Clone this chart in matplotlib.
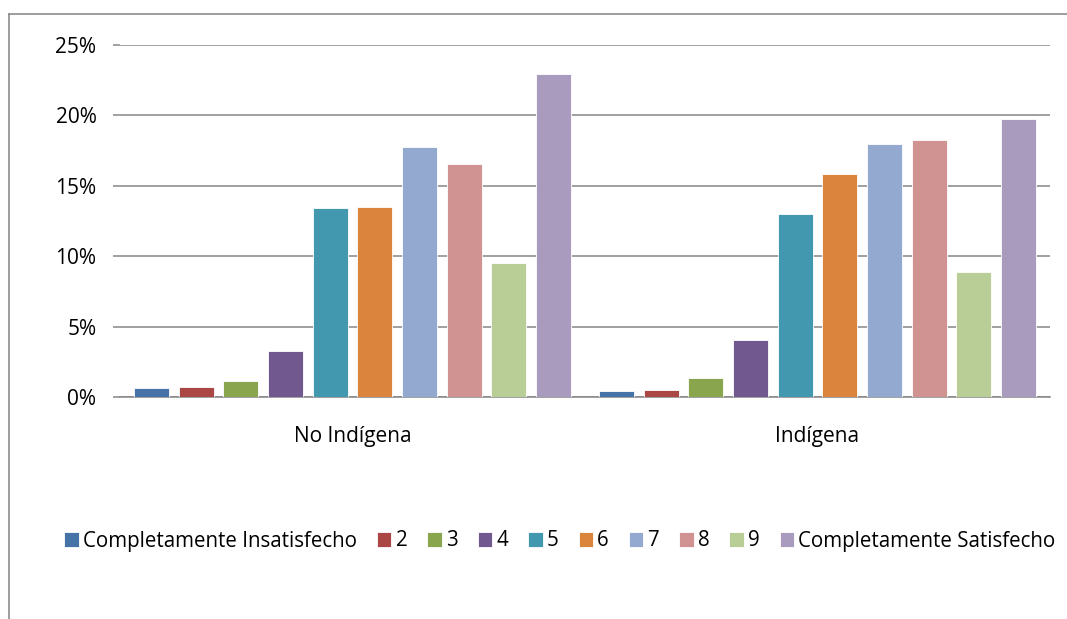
import numpy as np
import matplotlib
matplotlib.use('Agg')
import matplotlib.pyplot as plt
from matplotlib.lines import Line2D
from matplotlib.ticker import FuncFormatter

plt.rcParams['font.family'] = ['Open Sans', 'DejaVu Sans']

groups = ['No Indígena', 'Indígena']
series = ['Completamente Insatisfecho', '2', '3', '4', '5', '6', '7', '8', '9',
          'Completamente Satisfecho']
# percent values per series: [No Indigena, Indigena]
values = [
    [0.64, 0.40],
    [0.69, 0.47],
    [1.16, 1.33],
    [3.30, 4.05],
    [13.43, 13.00],
    [13.48, 15.83],
    [17.79, 17.94],
    [16.58, 18.27],
    [9.55, 8.86],
    [22.96, 19.71],
]
colors = ['#4572A7', '#AA4643', '#89A54E', '#71588F', '#4198AF',
          '#DB843D', '#93A9CF', '#D19392', '#B9CD96', '#A99BBD']
yticks = [0, 5, 10, 15, 20, 25]

W, H = 1067, 619
fig = plt.figure(figsize=(W / 100, H / 100), dpi=100)
ax = fig.add_axes([120 / W, 1 - 397 / H, 930 / W, 352 / H])

x = np.arange(len(groups))
pitch = 0.0961
width = 0.0753
n = len(series)
for i in range(n):
    off = (i - (n - 1) / 2) * pitch
    ax.bar(x + off, values[i], width=width, color=colors[i], edgecolor='white',
           linewidth=0.6, label=series[i], zorder=3)

ax.set_xlim(-0.5, 1.5)
ax.set_ylim(0, 25)
ax.set_yticks(yticks)
ax.yaxis.set_major_formatter(FuncFormatter(lambda v, p: '%d%%' % v))
ax.grid(axis='y', color='#868686', linewidth=1.1, zorder=0)
ax.set_xticks(x)
ax.set_xticklabels(groups, fontsize=15)
ax.tick_params(axis='x', length=0, pad=21)
ax.tick_params(axis='y', length=5, width=1.1, color='#868686', labelsize=15, pad=12)
for s in ['top', 'right', 'left']:
    ax.spines[s].set_visible(False)
ax.spines['bottom'].set_color('#868686')
ax.spines['bottom'].set_linewidth(1.1)

fig.legend(loc='center', bbox_to_anchor=(560 / W, 1 - 541 / H), ncol=n,
           frameon=False, fontsize=14.8, handlelength=0.7, handleheight=0.7,
           handletextpad=0.2, columnspacing=0.98)

# chart frame (left and top edges visible)
fig.add_artist(Line2D([9 / W, 9 / W], [0, 1 - 14 / H], transform=fig.transFigure,
                      color='#8c8c8c', linewidth=1.2))
fig.add_artist(Line2D([9 / W, 1], [1 - 14 / H, 1 - 14 / H], transform=fig.transFigure,
                      color='#8c8c8c', linewidth=1.2))

fig.savefig('out.png', dpi=100)
